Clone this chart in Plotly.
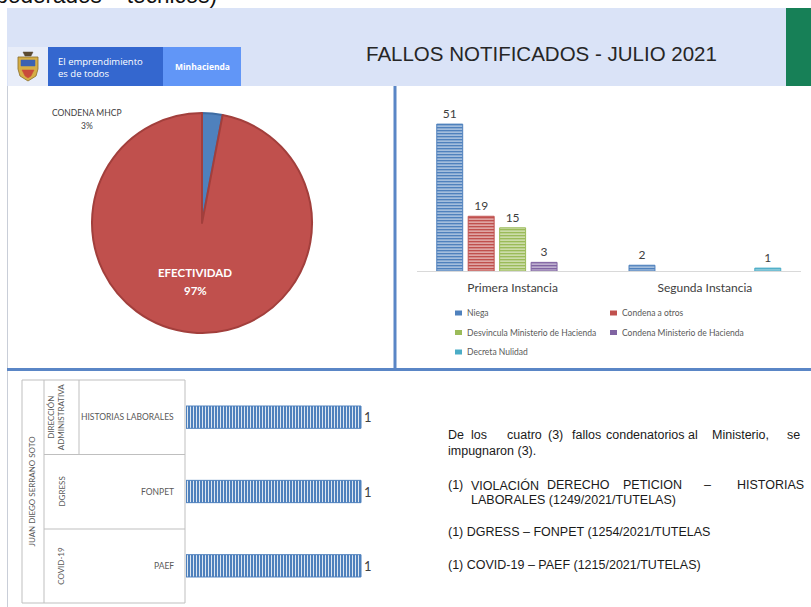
import plotly.graph_objects as go

W, H = 811, 607

# ---------------- data ----------------
pie_labels = ["CONDENA MHCP", "EFECTIVIDAD"]
pie_values = [3, 97]
pie_colors = ["#4f81bd", "#c0504d"]
pie_edge = ["#3e6ca3", "#a23f3c"]

instancias = ["Primera Instancia", "Segunda Instancia"]
series_names = ["Niega", "Condena a otros", "Desvincula Ministerio de Hacienda",
                "Condena Ministerio de Hacienda", "Decreta Nulidad"]
niega = [51, 2]
condena_otros = [19, 0]
desvincula = [15, 0]
condena_mh = [3, 0]
decreta_nulidad = [0, 1]
series_values = [niega, condena_otros, desvincula, condena_mh, decreta_nulidad]
series_colors = ["#4f81bd", "#c0504d", "#9bbb59", "#8064a2", "#4bacc6"]

temas = ["HISTORIAS LABORALES", "FONPET", "PAEF"]
dependencias = ["DIRECCIÓN<br>ADMINISTRATIVA", "DGRESS", "COVID-19"]
apoderado = "JUAN DIEGO SERRANO SOTO"
impugnados = [1, 1, 1]

titulo = "FALLOS NOTIFICADOS - JULIO 2021"


def fx(px):
    return px / W


def fy(py):
    return 1 - py / H


fig = go.Figure()

# ---------------- pie ----------------
fig.add_trace(go.Pie(
    labels=pie_labels, values=pie_values, sort=False, direction="clockwise",
    rotation=0, textinfo="none",
    marker=dict(colors=pie_colors, line=dict(color=pie_edge, width=2)),
    domain=dict(x=[fx(92), fx(312)], y=[fy(333), fy(113)]),
    showlegend=False,
))

# ---------------- grouped bars ----------------
for name, vals, col in zip(series_names, series_values, series_colors):
    fig.add_trace(go.Bar(
        x=instancias, y=vals, name=name, xaxis="x", yaxis="y",
        text=[str(v) if v else "" for v in vals], textposition="outside",
        textfont=dict(size=12, color="#404040", family="Lato"),
        cliponaxis=False,
        marker=dict(color=col, line=dict(color=col, width=[1 if v else 0 for v in vals]),
                    pattern=dict(shape="-", fgcolor="white", bgcolor=col,
                                 size=3, solidity=0.3, fgopacity=0.9)),
        showlegend=False,
    ))

# ---------------- horizontal bars ----------------
fig.add_trace(go.Bar(
    y=temas, x=impugnados, orientation="h", xaxis="x2", yaxis="y2", width=0.3,
    text=[str(v) for v in impugnados], textposition="outside",
    textfont=dict(size=13, color="#404040", family="Lato"),
    cliponaxis=False,
    marker=dict(color="#4f81bd", line=dict(color="#4f81bd", width=1),
                pattern=dict(shape="|", fgcolor="white", bgcolor="#4f81bd",
                             size=3, solidity=0.3, fgopacity=0.9)),
    showlegend=False,
))

shapes = []
annotations = []


def rect(x0, y0, x1, y1, fill, line=None, lw=0):
    shapes.append(dict(type="rect", xref="paper", yref="paper",
                       x0=fx(x0), x1=fx(x1), y0=fy(y1), y1=fy(y0),
                       fillcolor=fill, line=dict(color=line or fill, width=lw),
                       layer="below"))


def line(x0, y0, x1, y1, color, w):
    shapes.append(dict(type="line", xref="paper", yref="paper",
                       x0=fx(x0), x1=fx(x1), y0=fy(y0), y1=fy(y1),
                       line=dict(color=color, width=w)))


def poly(pts, fill, lc, lw=0.8):
    d = "M " + " L ".join(f"{fx(a):.5f} {fy(b):.5f}" for a, b in pts) + " Z"
    shapes.append(dict(type="path", xref="paper", yref="paper", path=d,
                       fillcolor=fill, line=dict(color=lc, width=lw)))


def text(t, x, y, size, color="#404040", family="Lato", xa="center", ya="middle", angle=0, **kw):
    annotations.append(dict(text=t, x=fx(x), y=fy(y), xref="paper", yref="paper",
                            xanchor=xa, yanchor=ya, showarrow=False, textangle=angle,
                            font=dict(size=size, color=color, family=family), **kw))


# ---------------- header ----------------
rect(7, 8, 786, 86, "#dae3f7")
rect(786, 8, 811, 86, "#178057")
rect(8, 47, 48, 86, "#e8edf9")
rect(48, 47, 163, 86, "#3467cf")
rect(163, 47, 241, 86, "#6196f7")
# emblem
poly([(18, 57), (38, 57), (38, 69), (36, 76), (28, 81), (20, 76), (18, 69)], "#d6ae45", "#8a6d2a")
poly([(21, 60), (35, 60), (35, 66), (21, 66)], "#3c62b2", "#3c62b2", 0.5)
poly([(22, 70), (34, 70), (31, 76), (28, 78), (25, 76)], "#c94b3b", "#c94b3b", 0.5)
poly([(23, 52), (33, 52), (31, 56), (25, 56)], "#5b4a32", "#5b4a32", 0.5)
text("El emprendimiento<br>es de todos", 56, 67, 9.5, "white", "Open Sans", xa="left", align="left")
text("<b>Minhacienda</b>", 202, 66, 8.5, "white", "Open Sans")
text(titulo, 541, 53, 20.5, "#262626", "Liberation Sans")
text("apoderados – técnicos)", 219, -4, 22.5, "#111111", "Liberation Sans", xa="right")

# ---------------- panel frames ----------------
line(7.5, 86, 7.5, 607, "#c9ced8", 1)
line(395, 86, 395, 370, "#5a86c6", 3)
line(7, 369.5, 811, 369.5, "#5a86c6", 3)

# ---------------- pie labels ----------------
tot = sum(pie_values)
pcts = [round(v * 100 / tot) for v in pie_values]
text(pie_labels[0], 87, 113, 8.5, "#404040")
text(f"{pcts[0]}%", 87, 126, 8.5, "#404040")
text(f"<b>{pie_labels[1]}</b>", 195, 272, 11.5, "white")
text(f"<b>{pcts[1]}%</b>", 195, 290, 11.5, "white")

# ---------------- manual legend ----------------
for i, (name, col) in enumerate(zip(series_names, series_colors)):
    cx = 455 + (i % 2) * 155
    cy = 313 + (i // 2) * 19.5
    rect(cx, cy - 2.5, cx + 7, cy + 2.5, col)
    text(name, cx + 10, cy, 8.5, "#595959", xa="left")

# ---------------- category table (bottom-left) ----------------
gc = "#bfbfbf"
line(22, 380, 185, 380, gc, 1)
line(22, 603, 185, 603, gc, 1)
line(22, 380, 22, 603, gc, 1)
line(185, 380, 185, 603, gc, 1)
line(44, 380, 44, 603, gc, 1)
line(79, 380, 79, 454.5, gc, 1)
line(44, 454.5, 185, 454.5, gc, 1)
line(44, 529, 185, 529, gc, 1)
text(apoderado, 31, 491.5, 8, "#595959", angle=-90)
for tema, dep in zip(temas, dependencias):
    annotations.append(dict(text=tema, x=fx(176), y=tema, xref="paper", yref="y2",
                            xanchor="right", yanchor="middle", showarrow=False,
                            font=dict(size=8.5, color="#595959", family="Lato")))
    annotations.append(dict(text=dep, x=fx(68), y=tema, xref="paper", yref="y2",
                            xanchor="right", yanchor="middle", showarrow=False,
                            textangle=-90,
                            font=dict(size=8, color="#595959", family="Lato")))

# ---------------- text block ----------------
F = "Liberation Sans"
TS = 12.5
TC = "#1a1a1a"
line1 = [("De", 445.5), ("los", 469), ("cuatro", 505), ("(3)", 546), ("fallos", 570),
         ("condenatorios", 604), ("al", 686), ("Ministerio,", 710), ("se", 785)]
for w, x in line1:
    text(w, x, 435, TS, TC, F, xa="left")
text("impugnaron (3).", 445.5, 451, TS, TC, F, xa="left")
line3 = [("(1)", 446), ("VIOLACIÓN", 469), ("DERECHO", 545), ("PETICION", 621),
         ("–", 701.5), ("HISTORIAS", 735)]
for w, x in line3:
    text(w, x, 485, TS, TC, F, xa="left")
text("LABORALES (1249/2021/TUTELAS)", 469, 500, TS, TC, F, xa="left")
text("(1) DGRESS – FONPET (1254/2021/TUTELAS", 446, 532, TS, TC, F, xa="left")
text("(1) COVID-19 – PAEF (1215/2021/TUTELAS)", 446, 565, TS, TC, F, xa="left")

fig.update_layout(
    width=W, height=H, margin=dict(l=0, r=0, t=0, b=0),
    paper_bgcolor="white", plot_bgcolor="rgba(0,0,0,0)",
    showlegend=False, barmode="group", bargap=0.182, bargroupgap=0.175,
    font=dict(family="Lato"),
    xaxis=dict(domain=[fx(416.5), fx(801)], showline=True, linecolor="#d9d9d9", linewidth=1,
               showgrid=False, zeroline=False, ticks="", ticklabelstandoff=6,
               tickfont=dict(size=12, color="#404040", family="Lato"), anchor="y"),
    yaxis=dict(domain=[fy(271), fy(112.6)], range=[0, 55], visible=False, anchor="x"),
    xaxis2=dict(domain=[fx(186), fx(186 + 175 * 1.3)], range=[0, 1.3], visible=False, anchor="y2"),
    yaxis2=dict(domain=[fy(603), fy(380)], autorange="reversed", showticklabels=False,
                showgrid=False, zeroline=False, showline=False, ticks="", anchor="x2"),
    shapes=shapes, annotations=annotations,
)

fig.write_html("out.html", config={"displayModeBar": False},
               post_script="document.body.style.margin='0';document.body.style.overflow='hidden';")
